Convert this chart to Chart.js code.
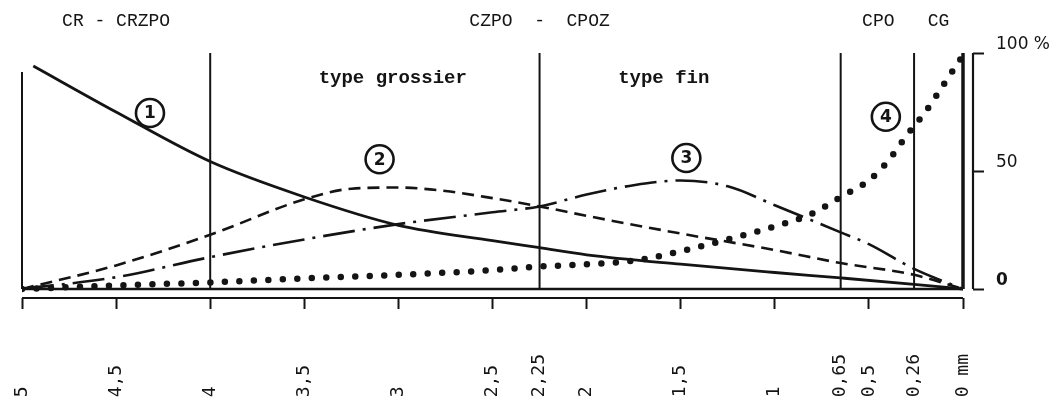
<!DOCTYPE html>
<html>
<head>
<meta charset="utf-8">
<script src="https://cdn.jsdelivr.net/npm/chart.js@4.4.1/dist/chart.umd.min.js"></script>
<style>
body{margin:0;background:#fff}
</style>
</head>
<body>
<canvas id="chart" width="1062" height="403"></canvas>
<script>
// grain size axis (mm), drawn from 5 down to 0
const xTicks=[5,4.5,4,3.5,3,2.5,2.25,2,1.5,1,0.65,0.5,0.26,0]
const xLabels=["5","4,5","4","3,5","3","2,5","2,25","2","1,5","1","0,65","0,5","0,26","0 mm"]
const xMarked=[5,4.5,4,3.5,3,2.5,2,1.5,1,0.5,0]
const yTicks=[0,50,100]

// class limits (mm) and the height of each limit line (%)
const bounds=[5,4,2.25,0.65,0.26,0]
const boundTop=[92,100,100,100,100,100]

// curve 1 - solid
const c1Mm=[4.94,4.5,4,3.5,3,2.5,2.25,2,1.5,1,0.65,0.26,0]
const c1Pct=[94.5,75,54,39,27,20.5,17.5,14.5,10.5,7,4.7,2,0]

// curve 2 - dashed (type grossier)
const c2Mm=[5,4.5,4,3.5,3.25,3,2.75,2.5,2.25,2,1.5,1,0.65,0.26,0]
const c2Pct=[0,10,23,38,42.5,43,41.5,38.5,35,31,23.5,16.5,11,6,0]

// curve 3 - dash-dot (type fin)
const c3Mm=[5,4.5,4,3.5,3,2.5,2.25,2,1.75,1.5,1.25,1,0.65,0.5,0.26,0]
const c3Pct=[0,5,13.5,21,27.5,32.5,35,40,44,46,43.5,35.5,24,19,8.5,0]

// curve 4 - dotted
const c4Mm=[5,4.5,4,3.5,3,2.5,2.25,2,1.75,1.5,1.25,1,0.8,0.65,0.5,0.4,0.3,0.2,0.1,0]
const c4Pct=[0,1.5,2.8,4.5,6,8,9.5,10.5,12,16,21,26.5,32,39,46,54,65,75,87,99]

// circled curve numbers
const markNum=["1","2","3","4"]
const markMm=[4.32,3.1,1.47,0.41]
const markPct=[74.6,55,55.5,73]

// texts above the plot
const topText=["CR - CRZPO","CZPO  -  CPOZ","CPO","CG"]
const topMm=[4.5,2.25,0.45,0.13]
const typeText=["type grossier","type fin"]
const typeMm=[3.03,1.59]

const xMin=-0.0531
const yMin=-3.81
const ink="#141414"

const pts=(xs,ys)=>xs.map((x,i)=>({x:x,y:ys[i]}))

const datasets=[]

datasets.push({
data:pts(markMm,markPct),
showLine:false,
pointRadius:14,
pointBorderWidth:2.6,
pointBorderColor:ink,
pointBackgroundColor:"#fff"
})

datasets.push({data:pts(c1Mm,c1Pct),borderColor:ink,borderWidth:2.8,cubicInterpolationMode:"monotone"})
datasets.push({data:pts(c2Mm,c2Pct),borderColor:ink,borderWidth:2.6,borderDash:[12,7],cubicInterpolationMode:"monotone"})
datasets.push({data:pts(c3Mm,c3Pct),borderColor:ink,borderWidth:2.6,borderDash:[32,8,3,8],cubicInterpolationMode:"monotone"})
datasets.push({data:pts(c4Mm,c4Pct),borderColor:ink,borderWidth:6.5,borderDash:[0,14.5],borderCapStyle:"round",cubicInterpolationMode:"monotone"})

// limit lines
bounds.forEach((b,i)=>{
datasets.push({data:[{x:b,y:0},{x:b,y:boundTop[i]}],borderColor:ink,borderWidth:b===0?3.5:2,clip:false})
})

// base line of the plot, lower mm axis, right % axis
datasets.push({data:[{x:5,y:0},{x:0,y:0}],borderColor:ink,borderWidth:2.4,clip:false})
datasets.push({data:[{x:5,y:yMin},{x:0,y:yMin}],borderColor:ink,borderWidth:2.2,clip:false})
datasets.push({data:[{x:xMin,y:0},{x:xMin,y:100}],borderColor:ink,borderWidth:2.2,clip:false})

datasets.forEach(d=>{
if(d.pointRadius===undefined) d.pointRadius=0
d.fill=false
})

const notes={
id:"notes",
afterDatasetsDraw(chart){
const {ctx,scales:{x,y}}=chart
ctx.save()
ctx.fillStyle=ink
ctx.textAlign="center"
ctx.textBaseline="middle"

ctx.font='18px "Liberation Mono"'
topText.forEach((t,i)=>ctx.fillText(t,x.getPixelForValue(topMm[i]),y.getPixelForValue(113.5)))

ctx.font='bold 19px "Liberation Mono"'
typeText.forEach((t,i)=>ctx.fillText(t,x.getPixelForValue(typeMm[i]),y.getPixelForValue(89.5)))

ctx.font='bold 17px "DejaVu Sans"'
const meta=chart.getDatasetMeta(0)
meta.data.forEach((p,i)=>ctx.fillText(markNum[i],p.x,p.y+1))
ctx.restore()
}
}

new Chart(document.getElementById("chart"),{
type:"line",
data:{datasets:datasets},
options:{
responsive:false,
animation:false,
events:[],
layout:{padding:{left:22,top:53,right:0,bottom:0}},
plugins:{legend:{display:false},tooltip:{enabled:false}},
scales:{
x:{
type:"linear",
reverse:true,
min:xMin,
max:5,
afterBuildTicks:s=>{s.ticks=xTicks.map(v=>({value:v}))},
afterFit:s=>{
s.height=105
s.paddingLeft=0
s.paddingRight=0
},
border:{display:false},
grid:{
drawOnChartArea:false,
drawTicks:true,
tickLength:11,
tickWidth:2,
tickColor:c=>xMarked.includes(c.tick.value)?ink:"rgba(0,0,0,0)"
},
ticks:{
autoSkip:false,
minRotation:90,
maxRotation:90,
padding:45,
color:ink,
font:{family:"DejaVu Sans Mono",size:18},
callback:v=>xLabels[xTicks.indexOf(v)].padEnd(4," ")
}
},
y:{
position:"right",
min:yMin,
max:100,
afterBuildTicks:s=>{s.ticks=yTicks.map(v=>({value:v}))},
afterFit:s=>{
s.width=89
s.paddingTop=0
s.paddingBottom=0
},
border:{display:false},
grid:{
drawOnChartArea:false,
drawTicks:true,
tickLength:11,
tickWidth:2,
tickColor:ink
},
ticks:{
padding:12,
labelOffset:-8,
color:ink,
font:c=>({family:"DejaVu Sans",size:17,weight:c.tick&&c.tick.value===0?"bold":"normal"}),
callback:v=>v===100?"100 %":String(v)
}
}
}
},
plugins:[notes]
})
</script>
</body>
</html>
